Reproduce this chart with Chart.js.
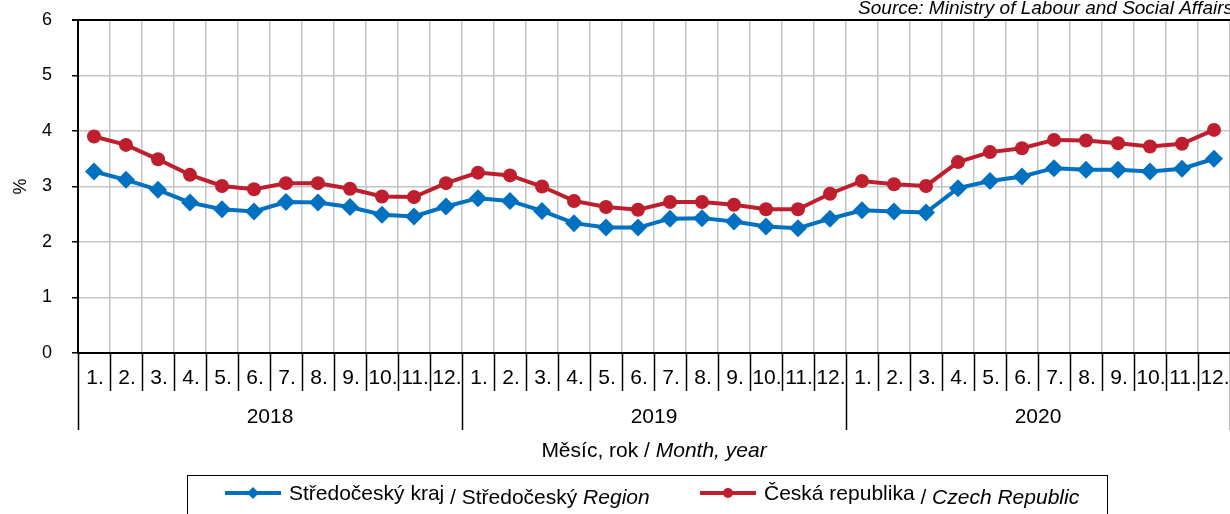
<!DOCTYPE html>
<html>
<head>
<meta charset="utf-8">
<script src="https://cdn.jsdelivr.net/npm/chart.js@4.4.1/dist/chart.umd.min.js"></script>
<style>
  body { margin: 0; background: #fff; }
  canvas { display: block; }
</style>
</head>
<body>
<canvas id="unemploymentChart" width="1230" height="514"></canvas>
<script>
// Data
const months = ['1.', '2.', '3.', '4.', '5.', '6.', '7.', '8.', '9.', '10.', '11.', '12.'];
const years = ['2018', '2019', '2020'];
const yTicks = [0, 1, 2, 3, 4, 5, 6];

const stredocesky = [
    3.27, 3.12, 2.94, 2.71, 2.59, 2.55, 2.72, 2.71, 2.63, 2.49, 2.46, 2.64,
    2.79, 2.74, 2.56, 2.34, 2.26, 2.26, 2.42, 2.43, 2.37, 2.28, 2.25, 2.42,
    2.57, 2.55, 2.53, 2.97, 3.10, 3.18, 3.33, 3.30, 3.30, 3.27, 3.32, 3.50
];
const ceskaRepublika = [
    3.90, 3.75, 3.49, 3.21, 3.01, 2.95, 3.06, 3.06, 2.96, 2.82, 2.81, 3.06,
    3.25, 3.20, 3.00, 2.74, 2.63, 2.58, 2.72, 2.72, 2.67, 2.59, 2.59, 2.87,
    3.10, 3.04, 3.01, 3.44, 3.62, 3.69, 3.84, 3.83, 3.78, 3.72, 3.77, 4.02
];

const BLUE = '#0070c0';
const RED = '#be1e2d';
const FONT = '"Liberation Sans", Arial, sans-serif';

// one label per month, e.g. "1. 2018"
const labels = [];
years.forEach(y => months.forEach(m => labels.push(m + ' ' + y)));

/**
 * Draws the two-level month/year axis, titles, legend and source note
 */
const decorPlugin = {
    id: 'decor',
    afterDraw(chart) {
        const ctx = chart.ctx;
        const area = chart.chartArea;
        const xs = chart.scales.x;
        const ys = chart.scales.y;
        const w = xs.getPixelForValue(1) - xs.getPixelForValue(0);

        ctx.save();

        // top border of the plot
        ctx.strokeStyle = '#000';
        ctx.lineWidth = 2;
        ctx.beginPath();
        ctx.moveTo(area.left - 6, area.top);
        ctx.lineTo(area.right, area.top);
        ctx.stroke();

        // month separators and year separators
        ctx.lineWidth = 1.5;
        for (let i = 0; i <= labels.length; i++) {
            const x = Math.round(xs.getPixelForValue(0) - w / 2 + i * w) + 0.5;
            const len = (i % 12 === 0) ? 77 : 38;
            ctx.beginPath();
            ctx.moveTo(x, area.bottom);
            ctx.lineTo(x, area.bottom + len);
            ctx.stroke();
        }

        ctx.fillStyle = '#000';
        ctx.textBaseline = 'middle';

        // y tick labels
        ctx.font = '18px ' + FONT;
        ctx.textAlign = 'right';
        yTicks.forEach(v => {
            ctx.fillText(String(v), area.left - 26, ys.getPixelForValue(v));
        });

        // month labels
        ctx.font = '21px ' + FONT;
        ctx.textAlign = 'center';
        labels.forEach((l, i) => {
            ctx.fillText(months[i % 12], xs.getPixelForValue(i) + 1, area.bottom + 25);
        });

        // year labels
        years.forEach((y, k) => {
            const x0 = xs.getPixelForValue(k * 12) - w / 2;
            ctx.fillText(y, x0 + 6 * w, area.bottom + 64);
        });

        // axis title: "Měsíc, rok / Month, year"
        const cx = (area.left + area.right) / 2;
        const t1 = 'Měsíc, rok / ';
        const t2 = 'Month, year';
        ctx.font = '21px ' + FONT;
        const w1 = ctx.measureText(t1).width;
        ctx.font = 'italic 21px ' + FONT;
        const w2 = ctx.measureText(t2).width;
        const sx = cx - (w1 + w2) / 2;
        ctx.textAlign = 'left';
        ctx.font = '21px ' + FONT;
        ctx.fillText(t1, sx, area.bottom + 98);
        ctx.font = 'italic 21px ' + FONT;
        ctx.fillText(t2, sx + w1, area.bottom + 98);

        // y axis title "%"
        ctx.save();
        ctx.translate(21, (area.top + area.bottom) / 2);
        ctx.rotate(-Math.PI / 2);
        ctx.textAlign = 'center';
        ctx.font = '18px ' + FONT;
        ctx.fillText('%', 0, 0);
        ctx.restore();

        // source note
        ctx.font = 'italic 19px ' + FONT;
        ctx.textAlign = 'right';
        ctx.fillText('Source: Ministry of Labour and Social Affairs', 1233, 9);

        // legend box
        ctx.strokeStyle = '#000';
        ctx.lineWidth = 1;
        ctx.strokeRect(187.5, 475.5, 920, 60);

        drawLegendItem(ctx, 225, 493, BLUE, 'rectRot',
            'Středočeský kraj', ' / Středočeský ', 'Region');
        drawLegendItem(ctx, 700, 493, RED, 'circle',
            'Česká republika', ' / ', 'Czech Republic');

        ctx.restore();
    }
};

function drawLegendItem(ctx, x, y, color, style, main, sep, italic) {
    ctx.strokeStyle = color;
    ctx.fillStyle = color;
    ctx.lineWidth = 4;
    ctx.beginPath();
    ctx.moveTo(x, y);
    ctx.lineTo(x + 56, y);
    ctx.stroke();
    ctx.beginPath();
    if (style === 'circle') {
        ctx.arc(x + 28, y, 5, 0, Math.PI * 2);
    } else {
        ctx.moveTo(x + 28, y - 6);
        ctx.lineTo(x + 34, y);
        ctx.lineTo(x + 28, y + 6);
        ctx.lineTo(x + 22, y);
        ctx.closePath();
    }
    ctx.fill();

    ctx.fillStyle = '#000';
    ctx.textAlign = 'left';
    ctx.textBaseline = 'alphabetic';
    let tx = x + 64;
    ctx.font = '21px ' + FONT;
    ctx.fillText(main, tx, y + 7);
    tx += ctx.measureText(main).width;
    ctx.font = '21px ' + FONT;
    ctx.fillText(sep, tx, y + 11);
    tx += ctx.measureText(sep).width;
    ctx.font = 'italic 21px ' + FONT;
    ctx.fillText(italic, tx, y + 11);
}

const ctx = document.getElementById('unemploymentChart').getContext('2d');
new Chart(ctx, {
    type: 'line',
    data: {
        labels: labels,
        datasets: [{
            label: 'Středočeský kraj / Středočeský Region',
            data: stredocesky,
            borderColor: BLUE,
            backgroundColor: BLUE,
            borderWidth: 4,
            pointStyle: 'rectRot',
            pointRadius: 9,
            pointBorderWidth: 0,
            tension: 0,
            clip: false
        }, {
            label: 'Česká republika / Czech Republic',
            data: ceskaRepublika,
            borderColor: RED,
            backgroundColor: RED,
            borderWidth: 4,
            pointStyle: 'circle',
            pointRadius: 7,
            pointBorderWidth: 0,
            tension: 0,
            clip: false
        }]
    },
    options: {
        responsive: false,
        animation: false,
        devicePixelRatio: 1,
        layout: {
            autoPadding: false,
            padding: { top: 20, right: 0, left: 0, bottom: 0 }
        },
        plugins: {
            legend: { display: false },
            tooltip: { enabled: false }
        },
        scales: {
            x: {
                type: 'category',
                offset: true,
                grid: {
                    offset: true,
                    color: '#c4c4c4',
                    lineWidth: 1.5,
                    drawTicks: false
                },
                border: { color: '#000', width: 2 },
                ticks: { display: false },
                afterFit(scale) {
                    scale.height = 161;
                    scale.paddingLeft = 0;
                    scale.paddingRight = 0;
                }
            },
            y: {
                min: 0,
                max: 6,
                afterBuildTicks(scale) {
                    scale.ticks = yTicks.map(v => ({ value: v }));
                },
                grid: {
                    color: '#c4c4c4',
                    lineWidth: 1.5,
                    tickColor: '#000',
                    tickLength: 6
                },
                border: { color: '#000', width: 2 },
                ticks: { display: false },
                afterFit(scale) {
                    scale.width = 78;
                    scale.paddingTop = 0;
                    scale.paddingBottom = 0;
                }
            }
        }
    },
    plugins: [decorPlugin]
});
</script>
</body>
</html>
